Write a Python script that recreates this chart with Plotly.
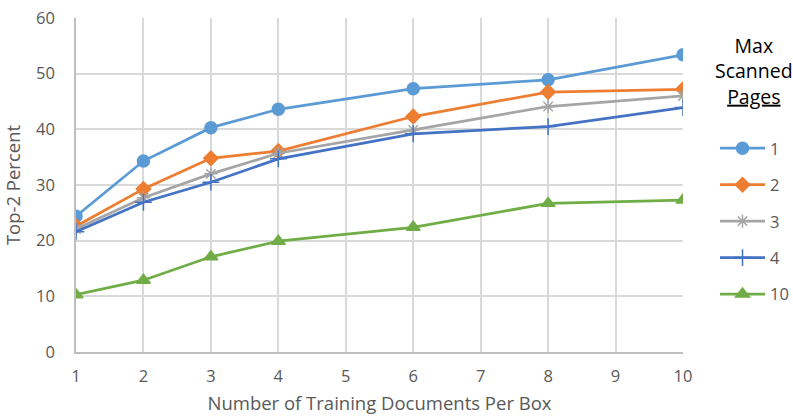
import plotly.graph_objects as go

x_docs = [1, 2, 3, 4, 6, 8, 10]
series_names = ["1", "2", "3", "4", "10"]
pages_1 = [24.4, 34.3, 40.3, 43.6, 47.3, 48.9, 53.4]
pages_2 = [22.6, 29.3, 34.8, 36.1, 42.3, 46.7, 47.2]
pages_3 = [22.1, 27.7, 32.0, 35.7, 39.9, 44.1, 46.0]
pages_4 = [21.6, 26.9, 30.5, 34.7, 39.2, 40.5, 43.9]
pages_10 = [10.3, 12.9, 17.1, 19.9, 22.4, 26.7, 27.3]
x_ticks = [1, 2, 3, 4, 5, 6, 7, 8, 9, 10]
y_ticks = [0, 10, 20, 30, 40, 50, 60]

values = [pages_1, pages_2, pages_3, pages_4, pages_10]
colors = ["#5B9BD5", "#ED7D31", "#A5A5A5", "#4472C4", "#70AD47"]
symbols = ["circle", "diamond", "asterisk-open", "cross-thin-open", "triangle-up"]
sizes = [12, 11, 11, 12, 12]

W, H = 793, 420
FONT = "'Open Sans', sans-serif"
fig = go.Figure()
for name, ys, c, s, sz in zip(series_names, values, colors, symbols, sizes):
    fig.add_trace(go.Scatter(
        x=x_docs, y=ys, name=name, mode="lines+markers", legendgroup=name,
        line=dict(color=c, width=2.75),
        marker=dict(symbol=s, size=sz, color=c, line=dict(color=c, width=1.5)),
    ))

fig.update_layout(
    width=W, height=H,
    margin=dict(l=76, r=110, t=18, b=68, autoexpand=False),
    plot_bgcolor="white", paper_bgcolor="white",
    font=dict(family=FONT, size=16.5, color="#595959"),
    xaxis=dict(range=[1, 10], tickvals=x_ticks, showgrid=True, gridcolor="#D9D9D9", gridwidth=1.5,
               showline=True, linecolor="#BFBFBF", linewidth=1.5, zeroline=False, ticks="",
               automargin=False, ticklabelstandoff=8,
               title=dict(text="Number of Training Documents Per Box", font=dict(size=18.5), standoff=12)),
    yaxis=dict(range=[0, 60], tickvals=y_ticks, showgrid=True, gridcolor="#D9D9D9", gridwidth=1.5,
               showline=True, linecolor="#BFBFBF", linewidth=1.5, zeroline=False, ticks="",
               automargin=False, ticklabelstandoff=16,
               title=dict(text="Top-2 Percent", font=dict(size=18.5), standoff=12)),
    legend=dict(xref="container", yref="container", x=715 / W, y=1 - 131 / H,
                xanchor="left", yanchor="top", tracegroupgap=12, itemwidth=45,
                font=dict(size=16.5, color="#595959"), bgcolor="rgba(0,0,0,0)"),
    showlegend=True,
)
fig.add_annotation(
    xref="paper", yref="paper", x=(754 - 76) / (683 - 76), y=1 + (18 - 30) / (352 - 18),
    xanchor="center", yanchor="top",
    text="Max<br>Scanned<br><span style='text-decoration:underline'>Pages</span>",
    showarrow=False, font=dict(family=FONT, size=19.5, color="#000000"), align="center",
)
fig.write_html("out.html", config={"displayModeBar": False},
               post_script="document.body.style.margin='0';document.body.style.padding='0';")
